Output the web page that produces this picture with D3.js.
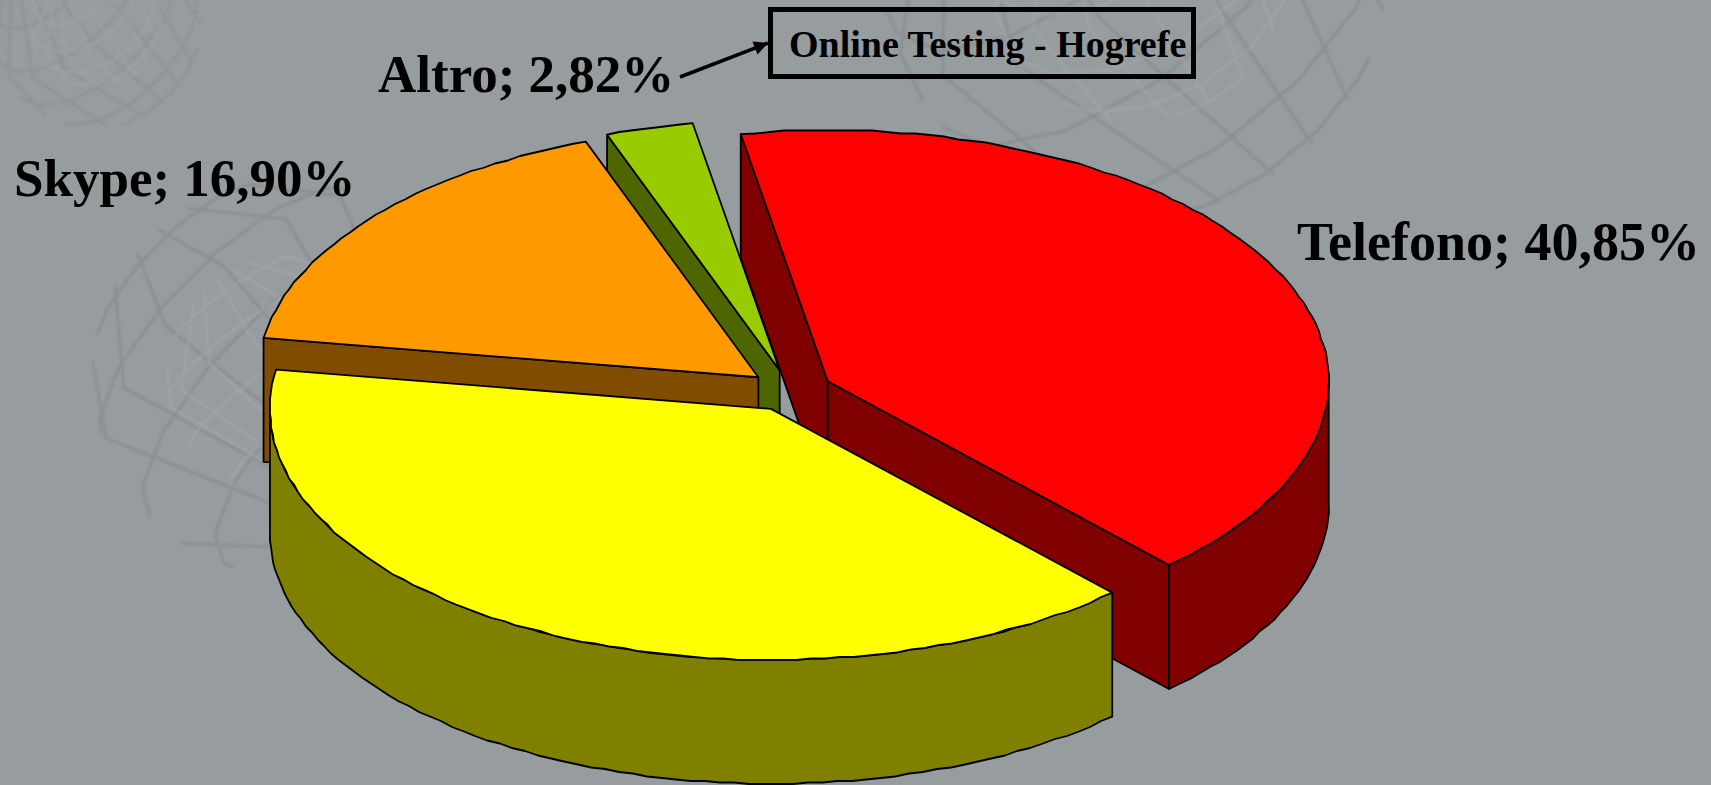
<!DOCTYPE html>
<html>
<head>
<meta charset="utf-8">
<script src="https://cdn.jsdelivr.net/npm/d3@7"></script>
<style>
  html, body { margin: 0; padding: 0; background: #979c9f; overflow: hidden; }
  text { font-family: "Liberation Serif", serif; font-weight: bold; fill: #000; }
</style>
</head>
<body>
<div id="chart"></div>
<script>
"use strict";

// slices, clockwise from the back
const categories = ["Telefono", "", "Skype", "Altro"];
const shares = [40.85, 39.43, 16.9, 2.82];
const shareLabels = ["40,85%", "", "16,90%", "2,82%"];
const topColors = ["#ff0000", "#ffff00", "#ff9900", "#99cc00"];
const wallColors = ["#800000", "#808000", "#804d00", "#4d6600"];
const noteText = "Online Testing - Hogrefe";

const width = 1711,
  height = 785;

///////////////////////////
// pie geometry
///////////////////////////
const cx = 790.5,
  cy = 390.5,
  rx = 501,
  ry = 251,
  depth = 124,
  explode = 0.083,
  firstAngle = (-10 * Math.PI) / 180;

const x = d3.scaleLinear().domain([-1, 1]).range([cx - rx, cx + rx]);
const y = d3.scaleLinear().domain([-1, 1]).range([cy - ry, cy + ry]);

const pie = d3
  .pie()
  .sort(null)
  .startAngle(firstAngle)
  .endAngle(firstAngle + 2 * Math.PI);

const slices = pie(shares).map((d) => {
  const mid = (d.startAngle + d.endAngle) / 2;
  return {
    ...d,
    ox: explode * Math.sin(mid),
    oy: -explode * Math.cos(mid),
  };
});

const point = (s, r, a) => [
  x(s.ox + r * Math.sin(a)),
  y(s.oy - r * Math.cos(a)),
];
const drop = (p) => [p[0], p[1] + depth];

// the rim is stepped a little, like the low resolution source
const arcPoints = (s, a0, a1) => {
  const n = Math.max(2, Math.ceil((a1 - a0) * 34));
  return d3.range(n + 1).map((i) => {
    const p = point(s, 1, a0 + ((a1 - a0) * i) / n);
    return i === 0 || i === n ? p : [Math.round(p[0]), Math.round(p[1] / 1.5) * 1.5];
  });
};
const line = d3.line();
const closed = (pts) => line(pts) + "Z";

///////////////////////////
// canvas
///////////////////////////
const svg = d3
  .select("#chart")
  .append("svg")
  .attr("width", width)
  .attr("height", height)
  .style("display", "block");

svg.append("rect").attr("width", width).attr("height", height).attr("fill", "#979c9f");

///////////////////////////
// faint wire globes behind the pie
///////////////////////////
const blur = svg.append("defs").append("filter").attr("id", "soft");
blur.append("feGaussianBlur").attr("stdDeviation", 0.8);

const globes = [
  { c: [95, 22], r: 106, rot: [15, -30, 45], step: 24, op: 0.55 },
  { c: [290, 378], r: 198, rot: [10, 20, 45], step: 26, op: 0.9 },
  { c: [1135, -35], r: 252, rot: [-15, -25, 40], step: 26, op: 0.9 },
];
globes.forEach((g) => {
  const proj = d3.geoOrthographic().translate(g.c).scale(g.r).rotate(g.rot).clipAngle(90).precision(0);
  const path = d3.geoPath(proj);
  const grid = d3.geoGraticule().step([g.step, g.step]).extent([[-180, -70], [180, 70.01]]).precision(g.step)();
  const layer = svg.append("g").attr("opacity", g.op).attr("filter", "url(#soft)").attr("fill", "none");
  layer.append("path").attr("d", path(grid))
    .attr("stroke", "#83888b").attr("stroke-width", 3).attr("stroke-opacity", 0.65);
  proj.scale(g.r * 0.62).rotate([g.rot[0] + 12, g.rot[1] - 10, g.rot[2] - 10]);
  layer.append("path").attr("d", path(grid))
    .attr("stroke", "#adb2b4").attr("stroke-width", 2).attr("stroke-opacity", 0.5);
});

///////////////////////////
// slices, back to front
///////////////////////////
const order = d3.range(slices.length).sort(
  (a, b) => point(slices[a], 0, 0)[1] - point(slices[b], 0, 0)[1]
);

const marks = svg.append("g").attr("stroke", "#000").attr("stroke-width", 1.8).attr("stroke-linejoin", "round");

order.forEach((i) => {
  const s = slices[i];
  const apex = point(s, 0, 0);
  const tipA = point(s, 1, s.startAngle);
  const tipB = point(s, 1, s.endAngle);
  const g = marks.append("g").attr("class", "slice");

  // cut walls that face the viewer
  if (Math.sin(s.startAngle) < 0) {
    g.append("path").attr("fill", wallColors[i])
      .attr("d", closed([apex, tipA, drop(tipA), drop(apex)]));
  }
  if (Math.sin(s.endAngle) > 0) {
    g.append("path").attr("fill", wallColors[i])
      .attr("d", closed([apex, tipB, drop(tipB), drop(apex)]));
  }

  // round wall, only the front half shows
  const a0 = Math.max(s.startAngle, Math.PI / 2);
  const a1 = Math.min(s.endAngle, (3 * Math.PI) / 2);
  if (a1 > a0) {
    const rim = arcPoints(s, a0, a1);
    g.append("path").attr("fill", wallColors[i])
      .attr("d", closed(rim.concat(rim.map(drop).reverse())));
  }

  g.append("path").attr("fill", topColors[i])
    .attr("d", closed([apex].concat(arcPoints(s, s.startAngle, s.endAngle))));
});

///////////////////////////
// labels
///////////////////////////
const labelSpots = [
  { x: 1297, y: 260, size: 54 },
  null,
  { x: 14, y: 196, size: 53 },
  { x: 378, y: 92, size: 53 },
];
svg
  .selectAll("text.label")
  .data(d3.range(categories.length).filter((i) => categories[i]))
  .enter()
  .append("text")
  .attr("class", "label")
  .attr("x", (i) => labelSpots[i].x)
  .attr("y", (i) => labelSpots[i].y)
  .attr("font-size", (i) => labelSpots[i].size)
  .text((i) => `${categories[i]}; ${shareLabels[i]}`);

///////////////////////////
// note box and arrow
///////////////////////////
svg.append("rect")
  .attr("x", 770.5).attr("y", 9.5).attr("width", 423).attr("height", 67)
  .attr("fill", "none").attr("stroke", "#000").attr("stroke-width", 5);

svg.append("text").attr("x", 789).attr("y", 57).attr("font-size", 38).text(noteText);

svg.select("defs").append("marker")
  .attr("id", "head").attr("viewBox", "0 0 10 10").attr("refX", 10).attr("refY", 5)
  .attr("markerUnits", "userSpaceOnUse").attr("markerWidth", 18).attr("markerHeight", 14)
  .attr("orient", "auto")
  .append("path").attr("d", "M0,0L10,5L0,10Z").attr("fill", "#000");

svg.append("line")
  .attr("x1", 680).attr("y1", 77).attr("x2", 768).attr("y2", 43)
  .attr("stroke", "#000").attr("stroke-width", 3.5).attr("marker-end", "url(#head)");
</script>
</body>
</html>
